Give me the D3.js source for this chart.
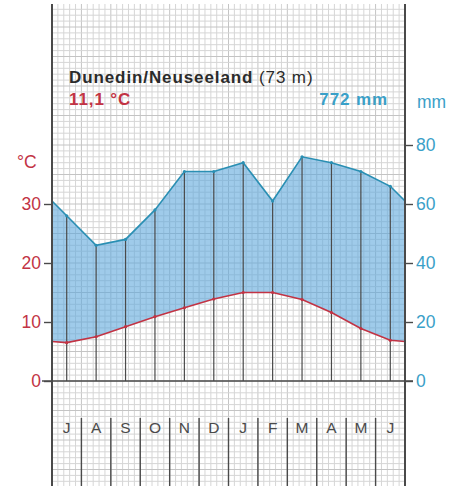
<!DOCTYPE html>
<html>
<head>
<meta charset="utf-8">
<script src="https://cdn.jsdelivr.net/npm/d3@7"></script>
<style>
  html, body { margin: 0; padding: 0; background: #fff; }
  svg { display: block; font-family: "Liberation Sans", Arial, sans-serif; }
</style>
</head>
<body>
<svg id="chart" width="454" height="486"></svg>
<script>
// climate diagram, july -> june (southern hemisphere)
const months = ["J", "A", "S", "O", "N", "D", "J", "F", "M", "A", "M", "J"];
const temp = [6.5, 7.5, 9.2, 10.9, 12.4, 13.9, 15.0, 15.0, 13.8, 11.6, 8.9, 6.9];
const precip = [56, 46, 48, 58, 71, 71, 74, 61, 76, 74, 71, 66];
const tempTicks = [0, 10, 20, 30];
const precipTicks = [0, 20, 40, 60, 80];
const station = "Dunedin/Neuseeland";
const elevation = "(73 m)";
const meanTemp = "11,1 °C";
const sumPrecip = "772 mm";

const W = 454, H = 486;
const plotLeft = 52, plotRight = 405, plotTop = 4, zeroY = 381;

const svg = d3.select("#chart");

const x = d3.scaleLinear().domain([0, 12]).range([plotLeft, plotRight]);
const yT = d3.scaleLinear().domain([0, 30]).range([zeroY, 204]);
const yP = d3.scaleLinear().domain([0, 60]).range([zeroY, 204]);

const RED = "#c23344";
const BLUE = "#3aa0c8";
const DARK = "#4a4a4a";

// grid paper
const grid = svg.append("g").attr("class", "grid");
const step = (x(1) - x(0)) / 5;
d3.range(0, 61).forEach(i => {
  const gx = x(0) + i * step;
  grid.append("line")
    .attr("x1", gx).attr("x2", gx).attr("y1", plotTop).attr("y2", H)
    .attr("stroke", i % 5 === 0 ? "#c4c4c4" : "#d6d6d6").attr("stroke-width", 1);
});
const hstep = yT(0) - yT(1);
for (let i = -Math.ceil((H - zeroY) / hstep); i <= Math.floor((zeroY - plotTop) / hstep); i++) {
  const gy = yT(i);
  grid.append("line")
    .attr("x1", plotLeft).attr("x2", plotRight).attr("y1", gy).attr("y2", gy)
    .attr("stroke", i % 5 === 0 ? "#c4c4c4" : "#d6d6d6").attr("stroke-width", 1);
}

// points at month centres plus wrap-around ends
const edgeT = (temp[0] + temp[11]) / 2;
const edgeP = (precip[0] + precip[11]) / 2;
const pts = [{ m: 0, t: edgeT, p: edgeP }]
  .concat(months.map((d, i) => ({ m: i + 0.5, t: temp[i], p: precip[i] })))
  .concat([{ m: 12, t: edgeT, p: edgeP }]);

const area = d3.area()
  .x(d => x(d.m))
  .y0(d => yT(d.t))
  .y1(d => yP(d.p));

svg.append("path")
  .datum(pts)
  .attr("d", area)
  .attr("fill", "#5fa9dc")
  .attr("fill-opacity", 0.6);

// month lines up to precip value
svg.append("g").selectAll("line")
  .data(months)
  .join("line")
  .attr("x1", (d, i) => x(i + 0.5))
  .attr("x2", (d, i) => x(i + 0.5))
  .attr("y1", zeroY)
  .attr("y2", (d, i) => yP(precip[i]))
  .attr("stroke", DARK)
  .attr("stroke-width", 1.2);

svg.append("path")
  .datum(pts)
  .attr("d", d3.line().x(d => x(d.m)).y(d => yP(d.p)))
  .attr("fill", "none")
  .attr("stroke", "#2a8fb3")
  .attr("stroke-width", 1.6);

svg.append("path")
  .datum(pts)
  .attr("d", d3.line().x(d => x(d.m)).y(d => yT(d.t)))
  .attr("fill", "none")
  .attr("stroke", RED)
  .attr("stroke-width", 1.6);

svg.append("g").selectAll("circle")
  .data(months)
  .join("circle")
  .attr("cx", (d, i) => x(i + 0.5))
  .attr("cy", (d, i) => yT(temp[i]))
  .attr("r", 1.6)
  .attr("fill", RED);

svg.append("g").selectAll("circle")
  .data(months)
  .join("circle")
  .attr("cx", (d, i) => x(i + 0.5))
  .attr("cy", (d, i) => yP(precip[i]))
  .attr("r", 1.6)
  .attr("fill", "#2a8fb3");

// frame
[plotLeft, plotRight].forEach(fx => {
  svg.append("line")
    .attr("x1", fx).attr("x2", fx).attr("y1", plotTop).attr("y2", H)
    .attr("stroke", DARK).attr("stroke-width", 2);
});
svg.append("line")
  .attr("x1", 42).attr("x2", 413).attr("y1", zeroY).attr("y2", zeroY)
  .attr("stroke", DARK).attr("stroke-width", 1.6);

// month separators in the label strip
svg.append("g").selectAll("line")
  .data(d3.range(1, 12))
  .join("line")
  .attr("x1", d => x(d)).attr("x2", d => x(d))
  .attr("y1", 418).attr("y2", H)
  .attr("stroke", DARK).attr("stroke-width", 1.4);

svg.append("g").selectAll("text")
  .data(months)
  .join("text")
  .attr("x", (d, i) => x(i + 0.5))
  .attr("y", 433)
  .attr("text-anchor", "middle")
  .attr("font-size", 15.5)
  .attr("fill", DARK)
  .text(d => d);

// axes
const axL = svg.append("g")
  .attr("transform", `translate(${plotLeft},0)`)
  .call(d3.axisLeft(yT).tickValues(tempTicks).tickSize(8).tickPadding(3));
axL.select(".domain").remove();
axL.selectAll("line").attr("stroke", DARK).attr("stroke-width", 1.4);
axL.selectAll("text").attr("fill", RED).attr("font-size", 17.5)
  .attr("font-family", "Liberation Sans, Arial, sans-serif");

const axR = svg.append("g")
  .attr("transform", `translate(${plotRight},0)`)
  .call(d3.axisRight(yP).tickValues(precipTicks).tickSize(8).tickPadding(3));
axR.select(".domain").remove();
axR.selectAll("line").attr("stroke", DARK).attr("stroke-width", 1.4);
axR.selectAll("text").attr("fill", BLUE).attr("font-size", 17.5)
  .attr("font-family", "Liberation Sans, Arial, sans-serif");

svg.append("text").attr("x", 17).attr("y", 168)
  .attr("fill", RED).attr("font-size", 17.5).text("°C");
svg.append("text").attr("x", 417).attr("y", 108)
  .attr("fill", BLUE).attr("font-size", 17.5).text("mm");

// heading
const head = svg.append("text").attr("x", 69).attr("y", 82.5)
  .attr("font-size", 17).attr("letter-spacing", 0.9).attr("fill", "#2b2b2b");
head.append("tspan").attr("font-weight", "bold").text(station);
head.append("tspan").text(" " + elevation);

svg.append("text").attr("x", 69).attr("y", 105)
  .attr("font-size", 17).attr("letter-spacing", 0.9)
  .attr("font-weight", "bold").attr("fill", RED).text(meanTemp);
svg.append("text").attr("x", 388).attr("y", 105)
  .attr("text-anchor", "end")
  .attr("font-size", 17).attr("letter-spacing", 0.9)
  .attr("font-weight", "bold").attr("fill", BLUE).text(sumPrecip);
</script>
</body>
</html>
